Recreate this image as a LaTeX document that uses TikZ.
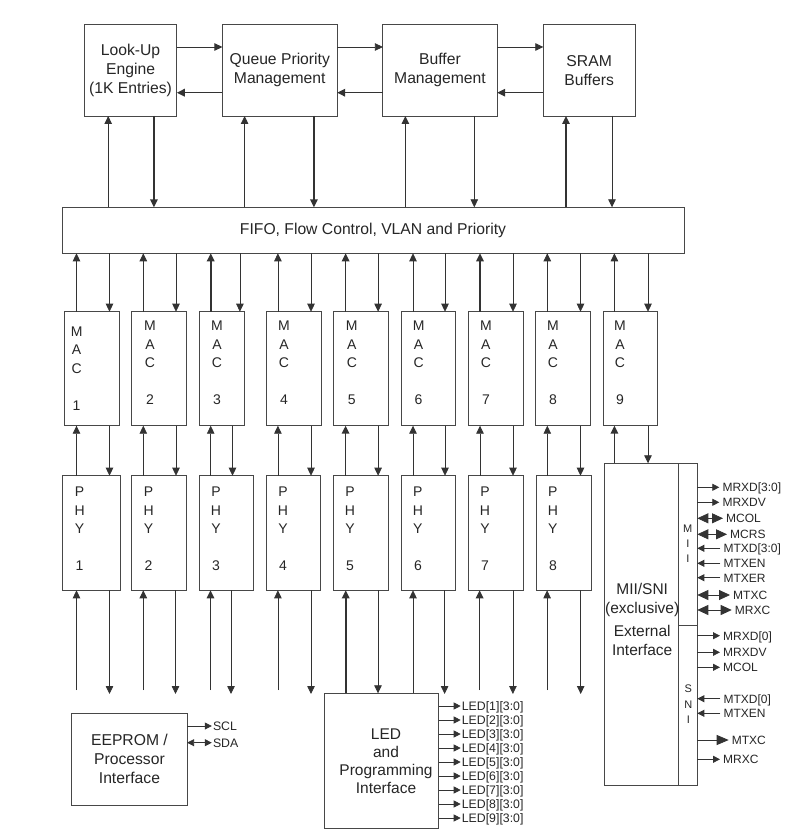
\documentclass[tikz,border=0pt]{standalone}
\usepackage{fontspec}
\setmainfont{Liberation Sans}
\usetikzlibrary{arrows.meta}
\newcommand\mybox[6]{\node[box,minimum width={(#4)-(#2)},minimum height={(#5)-(#3)}] (#1) at ({((#2)+(#4))/2},{((#3)+(#5))/2}) {#6};}
\tikzset{
 box/.style={draw=black!72, line width=0.9pt, inner sep=0pt, outer sep=0pt, align=center, font=\fontsize{15.7}{19}\selectfont, text=black!85},
 arr/.style={draw=black!80, line width=0.8pt, -{Triangle[length=8pt,width=7.5pt]}},
 lt/.style={font=\fontsize{14}{18.5}\selectfont, align=center, inner sep=0pt, anchor=north, text=black!85},
 st/.style={font=\fontsize{11}{14.7}\selectfont, align=center, inner sep=0pt, anchor=north, text=black!85},
 sig/.style={font=\fontsize{12}{14}\selectfont, inner xsep=3pt, inner ysep=0pt, anchor=west, text height=8.6pt, text depth=0pt, text=black!85},
 ledsig/.style={sig, font=\fontsize{12.3}{14}\selectfont, inner xsep=1pt},
 sarr/.style={draw=black!80, line width=0.8pt, -{Triangle[length=7pt,width=7pt]}},
 barr/.style={draw=black!80, line width=0.8pt, -{Triangle[length=12pt,width=10pt]}},
 darr/.style={draw=black!80, line width=0.8pt, {Triangle[length=11pt,width=10pt]}-{Triangle[length=11pt,width=10pt]}},
 sdarr/.style={draw=black!80, line width=0.8pt, {Triangle[length=7pt,width=7pt]}-{Triangle[length=7pt,width=7pt]}},
}
\begin{document}
\begin{tikzpicture}[x=1pt,y=-1pt]
\useasboundingbox[fill=white] (0,0) rectangle (799,840);

% top row
\mybox{lu}{84.3}{24.3}{176.8}{116}{Look-Up\\Engine\\(1K Entries)}
\mybox{qpm}{222.4}{24.3}{337.1}{116}{Queue Priority\\Management}
\mybox{bm}{382.9}{24.3}{497.1}{116}{Buffer\\Management}
\mybox{sram}{543.3}{24.3}{635}{116}{SRAM\\Buffers}
\mybox{fifo}{62}{207.3}{684}{253.3}{FIFO, Flow Control, VLAN and Priority}

\draw[arr] (lu.east |- 0,47) -- (qpm.west |- 0,47);
\draw[arr] (qpm.east |- 0,47) -- (bm.west |- 0,47);
\draw[arr] (bm.east |- 0,47) -- (sram.west |- 0,47);
\draw[arr,line width=1.6pt] (qpm.west |- 0,92.7) -- (lu.east |- 0,92.7);
\draw[arr,line width=1.6pt] (bm.west |- 0,92.7) -- (qpm.east |- 0,92.7);
\draw[arr,line width=1.2pt] (sram.west |- 0,92.7) -- (bm.east |- 0,92.7);

\foreach \bn/\u/\d/\ut/\dt in {lu/108.2/153.9/0.8/1.6, qpm/244.6/313.9/0.8/1.6, bm/405.4/474.3/1.1/0.8, sram/566/612/1.6/0.8}{
  \draw[arr,line width=\ut pt] (fifo.north -| \u,0) -- (\bn.south -| \u,0);
  \draw[arr,line width=\dt pt] (\bn.south -| \d,0) -- (fifo.north -| \d,0);
}

% MAC row
\foreach \n/\a/\b/\t/\ty in {1/64.7/119.3/76.6/326.5, 2/131.6/186.9/150/321, 3/199.6/244.3/217/321, 4/266.8/321.4/284/321, 5/333.6/388.6/351.8/321, 6/401.2/455.4/418.6/321, 7/468.1/523/485.9/321, 8/535.3/590.6/553/321, 9/603.3/657.9/620/321}{
  \mybox{mac\n}{\a}{311.7}{\b}{425.7}{}
  \node[lt] (mact\n) at (\t,\ty) {M\\A\\C\\[18.5pt]\n};
}
\foreach \n/\u/\d/\ut in {1/76.5/109.5/0.8, 2/143.3/176/0.8, 3/210.7/239.9/1.6, 4/277.9/311/0.8, 5/345.6/378.1/1.6, 6/413/445/0.8, 7/480/513/1.6, 8/547.3/580.5/0.8, 9/614.4/648/0.8}{
  \draw[arr,line width=\ut pt] (mac\n.north -| \u,0) -- (fifo.south -| \u,0);
  \draw[arr] (fifo.south -| \d,0) -- (mac\n.north -| \d,0);
}

% PHY row
\foreach \n/\a/\b/\t in {1/62.9/120/79.6, 2/131.4/186.8/148.6, 3/199.3/253.6/216, 4/266.4/320.7/283, 5/333.6/388.6/350, 6/401.4/455.7/417.9, 7/468.2/523.2/485, 8/536.1/591.1/552.9}{
  \mybox{phy\n}{\a}{475.7}{\b}{590.3}{}
  \node[lt] (phyt\n) at (\t,486.7) {P\\H\\Y\\[18.5pt]\n};
}
\foreach \n/\u/\d/\ut in {1/76.5/109.5/0.8, 2/143.3/176/0.8, 3/210.7/232.5/0.8, 4/277.9/311/0.8, 5/345.6/378.1/1.6, 6/413/445/0.8, 7/480/513/0.8, 8/547.3/580.5/0.8}{
  \draw[arr,line width=\ut pt] (phy\n.north -| \u,0) -- (mac\n.south -| \u,0);
  \draw[arr] (mac\n.south -| \d,0) -- (phy\n.north -| \d,0);
}

% LED box
\mybox{led}{324.6}{693.3}{438.6}{828.3}{}
\node[box,draw=none,font=\fontsize{15.5}{18}\selectfont] (ledt) at (386,761.5) {LED\\and\\Programming\\Interface};

% bottom arrows of PHYs
\foreach \n/\u/\d/\ut in {1/76.5/109.5/0.8, 2/143.3/175.5/0.8, 3/210.5/231/1.6, 4/277.9/311/0.8, 7/479.6/512.9/1.6, 8/547.1/580.7/0.8}{
  \coordinate (bu\n) at (\u,690);
  \coordinate (bd\n) at (\d,694);
  \draw[arr,line width=\ut pt] (bu\n) -- (phy\n.south -| bu\n);
  \draw[arr] (phy\n.south -| bd\n) -- (bd\n);
}
\draw[arr,line width=1.6pt] (led.north -| 345.7,0) -- (phy5.south -| 345.7,0);
\draw[arr] (phy5.south -| 378,0) -- (led.north -| 378,0);
\draw[arr] (led.north -| 413,0) -- (phy6.south -| 413,0);
\coordinate (bd6) at (444.6,694);
\draw[arr] (phy6.south -| bd6) -- (bd6);

% LED signals
\foreach \i in {1,...,9}{
  \node[ledsig] (ledl\i) at (460.7,{706+14*(\i-1)}) {LED[\i][3:0]};
  \draw[sarr] (ledl\i.west -| led.east) -- (ledl\i.west);
}

% EEPROM
\mybox{eep}{71.8}{713.7}{187.1}{805}{EEPROM /\\Processor\\Interface}
\node[ledsig] (scl) at (211.8,726) {SCL};
\node[ledsig] (sda) at (211.8,742.7) {SDA};
\draw[sarr] (scl.west -| eep.east) -- (scl.west);
\draw[sdarr] (sda.west -| eep.east) -- (sda.west);

% MII/SNI external interface
\mybox{ext}{604.7}{463.3}{678.3}{785.7}{}
\mybox{mii}{678.3}{463.3}{697.3}{625}{}
\mybox{sni}{678.3}{625}{697.3}{785.7}{}
\node[box,draw=none,font=\fontsize{15.5}{19}\selectfont] (extt) at (642.2,619) {MII/SNI\\(exclusive)\\[4pt]External\\Interface};
\node[st] (miit) at (687.8,525.2) {M\\I\\I};
\node[st,font=\fontsize{11}{15.5}\selectfont] (snit) at (688.3,684.8) {S\\N\\I};

\draw[arr,line width=1.6pt] (ext.north -| 614.4,0) -- (mac9.south -| 614.4,0);
\draw[arr] (mac9.south -| 648,0) -- (ext.north -| 648,0);

% MII signals
\node[sig] (m1) at (719.3,487.3) {MRXD[3:0]};
\node[sig] (m2) at (719.3,502.3) {MRXDV};
\node[sig] (m3) at (723,518.3) {MCOL};
\node[sig] (m4) at (727,534.3) {MCRS};
\node[sig] (m5) at (720.3,548.3) {MTXD[3:0]};
\node[sig] (m6) at (720.3,563.3) {MTXEN};
\node[sig] (m7) at (720.3,577.7) {MTXER};
\node[sig] (m8) at (730,595) {MTXC};
\node[sig] (m9) at (731.7,610) {MRXC};
\draw[sarr] (m1.west -| mii.east) -- (m1.west);
\draw[sarr] (m2.west -| mii.east) -- (m2.west);
\draw[darr] (m3.west -| mii.east) -- (m3.west);
\draw[darr] (m4.west -| mii.east) -- (m4.west);
\draw[sarr] (m5.west) -- (m5.west -| mii.east);
\draw[sarr] (m6.west) -- (m6.west -| mii.east);
\draw[sarr] (m7.west) -- (m7.west -| mii.east);
\draw[darr] (m8.west -| mii.east) -- (m8.west);
\draw[darr] (m9.west -| mii.east) -- (m9.west);

% SNI signals
\node[sig] (n1) at (720,635.7) {MRXD[0]};
\node[sig] (n2) at (720,652.3) {MRXDV};
\node[sig] (n3) at (720,667.3) {MCOL};
\node[sig] (n4) at (720.3,698.7) {MTXD[0]};
\node[sig] (n5) at (720.3,713.3) {MTXEN};
\node[sig] (n6) at (728.7,740) {MTXC};
\node[sig] (n7) at (720,759.3) {MRXC};
\draw[sarr] (n1.west -| sni.east) -- (n1.west);
\draw[sarr] (n2.west -| sni.east) -- (n2.west);
\draw[sarr] (n3.west -| sni.east) -- (n3.west);
\draw[sarr] (n4.west) -- (n4.west -| sni.east);
\draw[sarr] (n5.west) -- (n5.west -| sni.east);
\draw[barr] (n6.west -| sni.east) -- (n6.west);
\draw[sarr] (n7.west -| sni.east) -- (n7.west);
\end{tikzpicture}
\end{document}
